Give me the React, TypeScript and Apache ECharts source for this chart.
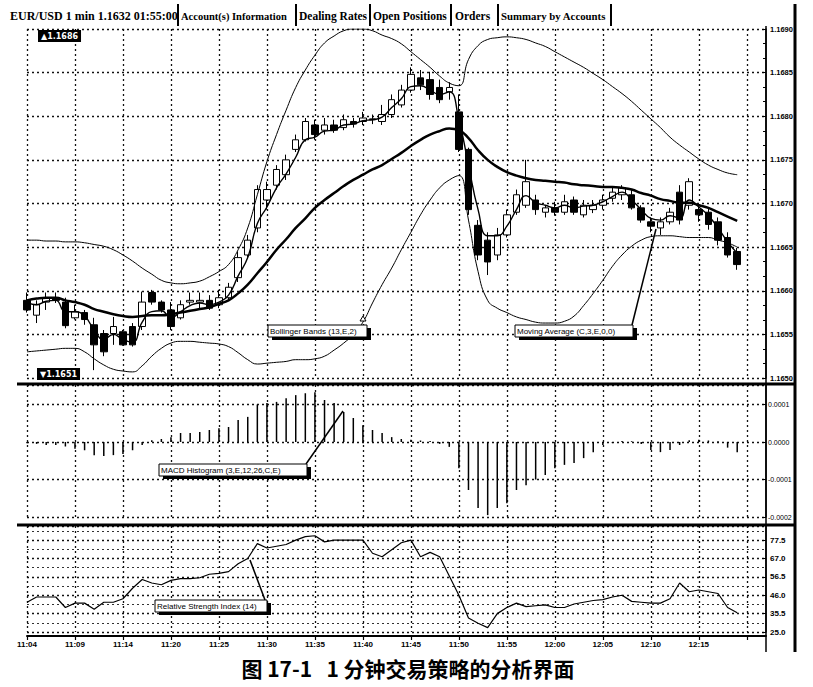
import React, { useEffect, useRef } from 'react';
import * as echarts from 'echarts';

// ---------- categories (1-minute bars) ----------
const categories: string[] = [];
for (let m = 11 * 60 + 4; m <= 12 * 60 + 21; m++) {
  categories.push(`${Math.floor(m / 60)}:${String(m % 60).padStart(2, '0')}`);
}
const tickLabels = ['11:04', '11:09', '11:14', '11:20', '11:25', '11:30', '11:35', '11:40', '11:45', '11:50', '11:55', '12:00', '12:05', '12:10', '12:15'];

// ---------- price panel ----------
const openP = [1.16589, 1.16572, 1.16587, 1.16592, 1.16587, 1.16569, 1.16575, 1.16561, 1.16551, 1.16551, 1.16553, 1.16559, 1.16559, 1.16598, 1.16587, 1.16578, 1.16569, 1.16587, 1.16587, 1.16589, 1.16584, 1.16592, 1.16615, 1.16641, 1.16672, 1.16704, 1.16721, 1.16733, 1.16762, 1.16773, 1.16790, 1.16784, 1.16790, 1.16787, 1.16794, 1.16794, 1.16796, 1.16794, 1.16802, 1.16813, 1.16830, 1.16844, 1.16842, 1.16833, 1.16828, 1.16805, 1.16762, 1.16675, 1.16658, 1.16641, 1.16664, 1.16690, 1.16698, 1.16704, 1.16690, 1.16695, 1.16690, 1.16704, 1.16687, 1.16693, 1.16698, 1.16706, 1.16710, 1.16710, 1.16695, 1.16679, 1.16672, 1.16679, 1.16713, 1.16698, 1.16693, 1.16690, 1.16679, 1.16661, 1.16645];
const closeP = [1.16578, 1.16584, 1.16592, 1.16589, 1.16560, 1.16576, 1.16567, 1.16538, 1.16530, 1.16559, 1.16538, 1.16538, 1.16587, 1.16587, 1.16578, 1.16559, 1.16584, 1.16589, 1.16589, 1.16580, 1.16592, 1.16604, 1.16638, 1.16658, 1.16716, 1.16716, 1.16739, 1.16750, 1.16773, 1.16794, 1.16779, 1.16790, 1.16784, 1.16796, 1.16791, 1.16798, 1.16797, 1.16802, 1.16819, 1.16830, 1.16848, 1.16836, 1.16825, 1.16819, 1.16833, 1.16762, 1.16693, 1.16641, 1.16633, 1.16664, 1.16687, 1.16710, 1.16725, 1.16693, 1.16695, 1.16690, 1.16702, 1.16690, 1.16698, 1.16698, 1.16704, 1.16713, 1.16718, 1.16695, 1.16681, 1.16674, 1.16679, 1.16690, 1.16681, 1.16725, 1.16687, 1.16676, 1.16658, 1.16641, 1.16630];
const lowP = [1.16575, 1.16563, 1.16578, 1.16586, 1.16557, 1.16567, 1.16561, 1.16509, 1.16525, 1.16538, 1.16537, 1.16536, 1.16555, 1.16584, 1.16575, 1.16555, 1.16567, 1.16584, 1.16580, 1.16578, 1.16580, 1.16589, 1.16610, 1.16638, 1.16667, 1.16693, 1.16716, 1.16727, 1.16759, 1.16771, 1.16773, 1.16779, 1.16781, 1.16784, 1.16787, 1.16790, 1.16791, 1.16790, 1.16798, 1.16810, 1.16827, 1.16830, 1.16819, 1.16815, 1.16819, 1.16759, 1.16687, 1.16635, 1.16618, 1.16635, 1.16661, 1.16687, 1.16695, 1.16687, 1.16684, 1.16686, 1.16687, 1.16687, 1.16684, 1.16689, 1.16693, 1.16702, 1.16704, 1.16693, 1.16678, 1.16667, 1.16664, 1.16676, 1.16676, 1.16693, 1.16679, 1.16670, 1.16652, 1.16638, 1.16624];
const highP = [1.16598, 1.16589, 1.16598, 1.16598, 1.16592, 1.16584, 1.16578, 1.16569, 1.16555, 1.16570, 1.16555, 1.16563, 1.16599, 1.16601, 1.16589, 1.16587, 1.16589, 1.16598, 1.16598, 1.16595, 1.16601, 1.16609, 1.16645, 1.16664, 1.16721, 1.16725, 1.16744, 1.16756, 1.16779, 1.16798, 1.16796, 1.16798, 1.16796, 1.16802, 1.16798, 1.16805, 1.16802, 1.16813, 1.16825, 1.16836, 1.16856, 1.16853, 1.16851, 1.16842, 1.16839, 1.16825, 1.16764, 1.16681, 1.16667, 1.16672, 1.16693, 1.16716, 1.16750, 1.16710, 1.16698, 1.16702, 1.16710, 1.16708, 1.16704, 1.16704, 1.16710, 1.16718, 1.16721, 1.16716, 1.16698, 1.16684, 1.16684, 1.16695, 1.16721, 1.16729, 1.16698, 1.16695, 1.16684, 1.16667, 1.16649];

const bbUpper = [1.16658, 1.16658, 1.16657, 1.16657, 1.16656, 1.16656, 1.16655, 1.16653, 1.16651, 1.16647, 1.16641, 1.16634, 1.16626, 1.16619, 1.16612, 1.16609, 1.16608, 1.16609, 1.16611, 1.16616, 1.16622, 1.16630, 1.16647, 1.16672, 1.16710, 1.16748, 1.16779, 1.16807, 1.16833, 1.16853, 1.16870, 1.16884, 1.16892, 1.16898, 1.16900, 1.16900, 1.16898, 1.16893, 1.16889, 1.16883, 1.16874, 1.16865, 1.16856, 1.16846, 1.16838, 1.16835, 1.16865, 1.16881, 1.16888, 1.16890, 1.16891, 1.16890, 1.16888, 1.16884, 1.16880, 1.16874, 1.16868, 1.16862, 1.16856, 1.16849, 1.16842, 1.16834, 1.16826, 1.16817, 1.16807, 1.16797, 1.16787, 1.16776, 1.16767, 1.16759, 1.16751, 1.16744, 1.16739, 1.16735, 1.16733];
const bbMiddle = [1.16589, 1.16591, 1.16592, 1.16592, 1.16589, 1.16587, 1.16584, 1.16579, 1.16576, 1.16573, 1.16571, 1.16570, 1.16571, 1.16572, 1.16572, 1.16573, 1.16575, 1.16577, 1.16579, 1.16581, 1.16585, 1.16589, 1.16597, 1.16607, 1.16620, 1.16633, 1.16647, 1.16659, 1.16672, 1.16683, 1.16695, 1.16704, 1.16712, 1.16720, 1.16727, 1.16733, 1.16739, 1.16744, 1.16751, 1.16758, 1.16766, 1.16773, 1.16779, 1.16783, 1.16786, 1.16784, 1.16775, 1.16761, 1.16750, 1.16742, 1.16736, 1.16732, 1.16729, 1.16727, 1.16726, 1.16725, 1.16724, 1.16722, 1.16721, 1.16720, 1.16719, 1.16719, 1.16718, 1.16716, 1.16712, 1.16709, 1.16705, 1.16703, 1.16701, 1.16701, 1.16698, 1.16695, 1.16690, 1.16685, 1.16680];
const bbLower = [1.16530, 1.16531, 1.16532, 1.16533, 1.16534, 1.16534, 1.16530, 1.16522, 1.16515, 1.16510, 1.16508, 1.16507, 1.16514, 1.16525, 1.16534, 1.16540, 1.16542, 1.16542, 1.16541, 1.16540, 1.16539, 1.16536, 1.16529, 1.16521, 1.16516, 1.16517, 1.16518, 1.16519, 1.16521, 1.16521, 1.16522, 1.16525, 1.16532, 1.16540, 1.16550, 1.16564, 1.16586, 1.16607, 1.16626, 1.16647, 1.16667, 1.16687, 1.16704, 1.16718, 1.16727, 1.16732, 1.16681, 1.16622, 1.16589, 1.16580, 1.16575, 1.16570, 1.16567, 1.16564, 1.16563, 1.16563, 1.16565, 1.16571, 1.16583, 1.16597, 1.16612, 1.16628, 1.16641, 1.16651, 1.16658, 1.16662, 1.16663, 1.16663, 1.16662, 1.16661, 1.16661, 1.16661, 1.16658, 1.16655, 1.16650];
const ma3 = [1.16587, 1.16584, 1.16588, 1.16589, 1.16576, 1.16576, 1.16571, 1.16555, 1.16544, 1.16550, 1.16544, 1.16541, 1.16564, 1.16576, 1.16577, 1.16569, 1.16576, 1.16583, 1.16586, 1.16584, 1.16587, 1.16595, 1.16617, 1.16638, 1.16677, 1.16696, 1.16718, 1.16734, 1.16753, 1.16773, 1.16776, 1.16783, 1.16784, 1.16790, 1.16791, 1.16795, 1.16796, 1.16799, 1.16810, 1.16820, 1.16834, 1.16835, 1.16830, 1.16825, 1.16828, 1.16796, 1.16744, 1.16693, 1.16663, 1.16663, 1.16674, 1.16693, 1.16709, 1.16701, 1.16698, 1.16695, 1.16698, 1.16695, 1.16697, 1.16698, 1.16702, 1.16708, 1.16713, 1.16704, 1.16693, 1.16683, 1.16681, 1.16686, 1.16683, 1.16704, 1.16696, 1.16686, 1.16672, 1.16656, 1.16643];
const currentPrice = 1.1665;

// ---------- MACD histogram ----------
const macdHist = [-0.000003, -0.000005, -0.000008, -0.000008, -0.000012, -0.000018, -0.000022, -0.000035, -0.000037, -0.000035, -0.000032, -0.000022, -0.000008, 0.000005, 0.000008, 0.000013, 0.000024, 0.000024, 0.000027, 0.000032, 0.000037, 0.00004, 0.000059, 0.000067, 0.0001, 0.000104, 0.000107, 0.000117, 0.000125, 0.00013, 0.000133, 0.000112, 0.000104, 0.00008, 0.000064, 0.000045, 0.000032, 0.000024, 0.000013, 0.000008, 0.000006, 0.000004, 0.000003, -0.000005, -0.000013, -0.00007, -0.000128, -0.000176, -0.000195, -0.000176, -0.000163, -0.000128, -0.000115, -0.0001, -0.000088, -0.00007, -0.000061, -0.000056, -0.000043, -0.000027, -0.000008, -0.000003, 0.000003, 0.000002, -0.000005, -0.000021, -0.000027, -0.000021, -0.000008, 0.000005, 0.000006, 0.000004, 0.000002, -0.000015, -0.000027];

// ---------- RSI ----------
const rsi = [42, 45, 45, 45, 39, 41.5, 41.5, 38, 42, 42, 44, 50, 55, 53, 52, 54.5, 55.5, 55.5, 56, 58, 58.5, 59.5, 64, 67, 75.5, 73, 74, 75, 77.5, 79.5, 80, 76.5, 77.5, 77.5, 77.5, 77.5, 70, 68, 72, 76, 77.5, 68, 70.5, 68, 57, 46, 33, 30, 27.5, 35.5, 39, 41.5, 39.5, 40, 40.5, 39, 39, 41, 42, 43, 43.5, 45, 46, 42.5, 42, 41.5, 41.5, 44, 53, 48, 49, 48, 47, 39, 36];

const FONT = '"Liberation Sans", Arial, sans-serif';
const dotted = { type: [2, 3] as number[], color: '#111', width: 1.3 };

function buildOption() {
  const candles = categories.map((_, i) =>
    i < openP.length ? [openP[i], closeP[i], lowP[i], highP[i]] : '-'
  );
  const every5 = (i: number) => i % 5 === 0;
  const axisLabelBase = { fontSize: 8, fontWeight: 'bold' as const, fontFamily: FONT, color: '#000' };

  const headerSegs = [
    { t: 'EUR/USD 1 min 1.1632 01:55:00', x: 10, size: 12 },
    { t: 'Account(s) Information', x: 181, size: 10.5 },
    { t: 'Dealing Rates', x: 299, size: 11.5 },
    { t: 'Open Positions', x: 373, size: 11.5 },
    { t: 'Orders', x: 455, size: 11.5 },
    { t: 'Summary by Accounts', x: 501, size: 10.8 },
  ];
  const headerBars = [178, 296, 370, 451, 498, 611];

  const note = (x: number, y: number, w: number, text: string) => [
    { type: 'rect', z: 100, shape: { x: x + 4, y: y + 3, width: w, height: 12 }, style: { fill: '#000' } },
    { type: 'rect', z: 101, shape: { x, y, width: w, height: 12 }, style: { fill: '#fff', stroke: '#000', lineWidth: 1 } },
    { type: 'text', z: 102, x: x + 2, y: y + 6, style: { text, fill: '#000', font: `8px ${FONT}`, verticalAlign: 'middle', textVerticalAlign: 'middle' } },
  ];

  const graphic: any[] = [
    ...headerSegs.map((s) => ({
      type: 'text', x: s.x, y: 16,
      style: { text: s.t, fill: '#000', font: `bold ${s.size}px "Liberation Serif", serif`, verticalAlign: 'middle', textVerticalAlign: 'middle' },
    })),
    ...headerBars.map((x) => ({ type: 'line', shape: { x1: x, y1: 4, x2: x, y2: 26 }, style: { stroke: '#000', lineWidth: 2 } })),
    // panel separators and borders
    { type: 'line', z: 90, shape: { x1: 17, y1: 384, x2: 795, y2: 384 }, style: { stroke: '#000', lineWidth: 3 } },
    { type: 'line', z: 90, shape: { x1: 17, y1: 525, x2: 795, y2: 525 }, style: { stroke: '#000', lineWidth: 3 } },
    { type: 'line', z: 90, shape: { x1: 766, y1: 26, x2: 766, y2: 652 }, style: { stroke: '#000', lineWidth: 1.5 } },
    { type: 'line', z: 90, shape: { x1: 795, y1: 4, x2: 795, y2: 652 }, style: { stroke: '#000', lineWidth: 3 } },
    // high / low flags
    { type: 'text', z: 100, x: 38, y: 36, style: { text: '▲1.1686', fill: '#fff', backgroundColor: '#000', padding: [2, 3], font: `bold 8px "DejaVu Sans", ${FONT}`, verticalAlign: 'middle', textVerticalAlign: 'middle' } },
    { type: 'text', z: 100, x: 37, y: 374, style: { text: '▼1.1651', fill: '#fff', backgroundColor: '#000', padding: [2, 3], font: `bold 8px "DejaVu Sans", ${FONT}`, verticalAlign: 'middle', textVerticalAlign: 'middle' } },
    // annotations
    ...note(268, 325, 99, 'Bollinger Bands (13,E,2)'),
    { type: 'polygon', z: 103, shape: { points: [[363, 316], [360, 321], [366, 321]] }, style: { fill: '#fff', stroke: '#000', lineWidth: 1 } },
    ...note(515, 325, 118, 'Moving Average (C,3,E,0,0)'),
    { type: 'line', z: 99, shape: { x1: 632, y1: 325, x2: 656, y2: 229 }, style: { stroke: '#000', lineWidth: 1.5 } },
    ...note(159, 464, 148, 'MACD Histogram (3,E,12,26,C,E)'),
    { type: 'line', z: 99, shape: { x1: 306, y1: 464, x2: 343, y2: 411 }, style: { stroke: '#000', lineWidth: 1.5 } },
    ...note(155, 600, 112, 'Relative Strength Index (14)'),
    { type: 'line', z: 99, shape: { x1: 265, y1: 600, x2: 250, y2: 560 }, style: { stroke: '#000', lineWidth: 1.5 } },
    // caption
    { type: 'text', x: 408, y: 668, style: { text: '图 17-1   1 分钟交易策略的分析界面', fill: '#000', font: 'bold 21px "Noto Sans CJK SC", sans-serif', align: 'center', verticalAlign: 'middle', textAlign: 'center', textVerticalAlign: 'middle' } },
  ];

  const xBase = (gridIndex: number) => ({
    type: 'category' as const,
    gridIndex,
    data: categories,
    boundaryGap: false,
    axisLine: { show: false },
    axisTick: { show: false },
    axisLabel: { show: false },
    splitLine: { show: true, interval: every5, lineStyle: dotted },
  });

  return {
    animation: false,
    backgroundColor: '#fff',
    grid: [
      { left: 27, right: 47, top: 29, height: 349 },
      { left: 27, right: 47, top: 385, height: 132 },
      { left: 27, right: 47, top: 526, height: 106 },
    ],
    xAxis: [
      xBase(0),
      xBase(1),
      {
        ...xBase(2),
        offset: 4,
        axisLine: { show: true, lineStyle: { color: '#000', width: 2 } },
        axisTick: { show: true, interval: every5, length: 4, lineStyle: { color: '#000', width: 1.2 } },
        axisLabel: {
          ...axisLabelBase,
          show: true,
          interval: every5,
          margin: 4,
          formatter: (_v: string, i: number) => (i % 5 === 0 ? tickLabels[i / 5] ?? '' : ''),
        },
      },
    ],
    yAxis: [
      {
        type: 'value', gridIndex: 0, position: 'right', min: 1.165, max: 1.169, interval: 0.0005,
        axisLine: { show: true, lineStyle: { color: '#000', width: 1.5 } },
        axisTick: { show: true, inside: true, length: 4, lineStyle: { color: '#000' } },
        minorTick: { show: true, splitNumber: 3, length: 3, lineStyle: { color: '#000' } },
        axisLabel: { ...axisLabelBase, fontSize: 7.5, margin: 4, formatter: (v: number) => v.toFixed(4) },
        splitLine: { show: true, lineStyle: dotted },
      },
      {
        type: 'value', gridIndex: 1, position: 'right', min: -0.0002, max: 0.000152, interval: 0.0001,
        axisLine: { show: true, lineStyle: { color: '#000', width: 1.5 } },
        axisTick: { show: true, inside: true, length: 4, lineStyle: { color: '#000' } },
        axisLabel: {
          ...axisLabelBase, fontSize: 7, fontWeight: 'normal', margin: 2, showMaxLabel: false,
          formatter: (v: number) => (Math.abs(v) < 1e-9 ? '0.0000' : v.toFixed(4)),
        },
        splitLine: { show: true, lineStyle: dotted },
      },
      {
        type: 'value', gridIndex: 2, position: 'right', min: 25, max: 85.57, interval: 10.5,
        axisLine: { show: true, lineStyle: { color: '#000', width: 1.5 } },
        axisTick: { show: true, inside: true, length: 4, lineStyle: { color: '#000' } },
        minorTick: { show: false, splitNumber: 2 },
        minorSplitLine: { show: true, lineStyle: { type: [2, 3], color: '#333', width: 1 } },
        axisLabel: { ...axisLabelBase, margin: 4, showMaxLabel: false, formatter: (v: number) => v.toFixed(1) },
        splitLine: { show: true, lineStyle: dotted },
      },
    ],
    series: [
      {
        type: 'candlestick', xAxisIndex: 0, yAxisIndex: 0, data: candles, barWidth: 7,
        itemStyle: { color: '#fff', color0: '#000', borderColor: '#000', borderColor0: '#000', borderWidth: 1 },
        markLine: {
          silent: true, symbol: 'none',
          data: [{ yAxis: currentPrice }],
          lineStyle: { color: '#000', type: 'solid', width: 1 },
          label: {
            show: true, position: 'end', distance: 3, formatter: currentPrice.toFixed(4),
            color: '#fff', backgroundColor: '#000', fontSize: 7.5, fontWeight: 'bold', fontFamily: FONT, padding: [2, 3],
          },
        },
      },
      { type: 'line', xAxisIndex: 0, yAxisIndex: 0, data: bbUpper, symbol: 'none', smooth: true, lineStyle: { color: '#000', width: 1 } },
      { type: 'line', xAxisIndex: 0, yAxisIndex: 0, data: bbMiddle, symbol: 'none', smooth: true, lineStyle: { color: '#000', width: 2.5 } },
      { type: 'line', xAxisIndex: 0, yAxisIndex: 0, data: bbLower, symbol: 'none', smooth: true, lineStyle: { color: '#000', width: 1 } },
      { type: 'line', xAxisIndex: 0, yAxisIndex: 0, data: ma3, symbol: 'none', smooth: true, lineStyle: { color: '#000', width: 1.4 } },
      { type: 'bar', xAxisIndex: 1, yAxisIndex: 1, data: macdHist, barWidth: 1.5, itemStyle: { color: '#000' } },
      { type: 'line', xAxisIndex: 2, yAxisIndex: 2, data: rsi, symbol: 'none', lineStyle: { color: '#000', width: 1.2 } },
    ],
    graphic,
  };
}

export default function App() {
  const ref = useRef<HTMLDivElement>(null);
  useEffect(() => {
    if (!ref.current) return;
    const chart = echarts.init(ref.current, null, { renderer: 'svg' });
    chart.setOption(buildOption() as any);
    return () => chart.dispose();
  }, []);
  return (
    <div
      ref={ref}
      style={{ position: 'fixed', left: 0, top: 0, width: 813, height: 687, background: '#fff' }}
    />
  );
}
